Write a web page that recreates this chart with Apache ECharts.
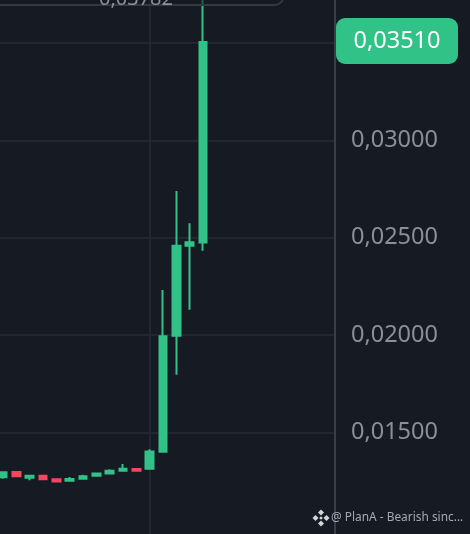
<!DOCTYPE html>
<html><head><meta charset="utf-8">
<style>html,body{margin:0;padding:0;background:#161a22;overflow:hidden}#c{width:470px;height:534px}</style>
<script src="https://cdn.jsdelivr.net/npm/echarts@6/dist/echarts.min.js"></script>
</head><body><div id="c"></div>
<script>
const opens  = [.0127,.01297,.01268,.01278,.0126,.01252,.01263,.01278,.0129,.01304,.01313,.01314,.01401,.01997,.02459,.02475];
const closes = [.01296,.01275,.01278,.0126,.01249,.01261,.01275,.01289,.01304,.01314,.01304,.01402,.01994,.02459,.02476,.03505];
const lows   = [.01262,.0127,.01255,.01255,.01244,.01247,.01258,.01273,.01285,.01299,.01299,.01309,.01396,.01797,.0213,.02433];
const highs  = [.01301,.01302,.01283,.01283,.01265,.01272,.01283,.01294,.01311,.01338,.01318,.01414,.02231,.0274,.02574,.03782];
const priceTicks = [.015,.02,.025,.03,.035];
const timeTicks = [11];
const lastPrice = '0,03510';
const highLabel = '0,03782';
const watermark = '@ PlanA - Bearish sinc...';
const UP='#30c287', DOWN='#f6465d', BG='#161a22', FONT='"Noto Sans", sans-serif';
const fmt=v=>v.toFixed(5).replace('.',',');
const data=opens.map((o,i)=>[i,o,closes[i],lows[i],highs[i]]);
const chart=echarts.init(document.getElementById('c'),null,{renderer:'canvas'});
const dia=(cx,cy,r)=>({type:'polygon',shape:{points:[[cx,cy-r],[cx+r,cy],[cx,cy+r],[cx-r,cy]]},style:{fill:'#d5d6d9'},z:101});
chart.setOption({
  animation:false,backgroundColor:BG,
  grid:{left:0,right:135,top:0,bottom:0},
  xAxis:{type:'value',min:-0.225,max:24.9,
    axisLine:{show:false},axisLabel:{show:false,customValues:timeTicks},axisTick:{show:false,customValues:timeTicks},
    splitLine:{show:true,lineStyle:{color:'#23262e',width:2}}},
  yAxis:{type:'value',position:'right',min:.00979,max:.0372,scale:true,
    axisLine:{show:true,onZero:false,lineStyle:{color:'#3a3e4a',width:2}},
    axisTick:{show:false,customValues:priceTicks},
    axisLabel:{customValues:priceTicks,formatter:fmt,color:'#8b8f98',fontSize:23.5,fontFamily:FONT,margin:16},
    splitLine:{show:true,lineStyle:{color:'#23262e',width:2}}},
  series:[{type:'candlestick',data,barWidth:8,encode:{x:0,y:[1,2,3,4]},
    itemStyle:{color:UP,color0:DOWN,borderColor:UP,borderColor0:DOWN,borderWidth:2}}],
  graphic:[
    {type:'rect',shape:{x:-40,y:-30,width:323,height:35,r:8},style:{fill:'rgba(22,26,34,0.6)',stroke:'#343842',lineWidth:2},z:100},
    {type:'text',x:136,y:-11,style:{text:highLabel,fill:'#8b8f98',font:'20px '+FONT,textAlign:'center',textVerticalAlign:'top'},z:101},
    {type:'rect',shape:{x:336,y:18,width:122,height:46,r:9},style:{fill:UP},z:100},
    {type:'text',x:397,y:41,style:{text:lastPrice,fill:'#fff',font:'23.5px '+FONT,textAlign:'center',textVerticalAlign:'middle'},z:101},
    {type:'text',x:331,y:518,style:{text:watermark,fill:'#a6a9b0',font:'11.9px '+FONT,textAlign:'left',textVerticalAlign:'middle'},z:101},
    dia(321,512.5,3),dia(321,523.5,3),dia(315.5,518,3),dia(326.5,518,3),dia(321,518,1.8)
  ]
});
</script></body></html>
